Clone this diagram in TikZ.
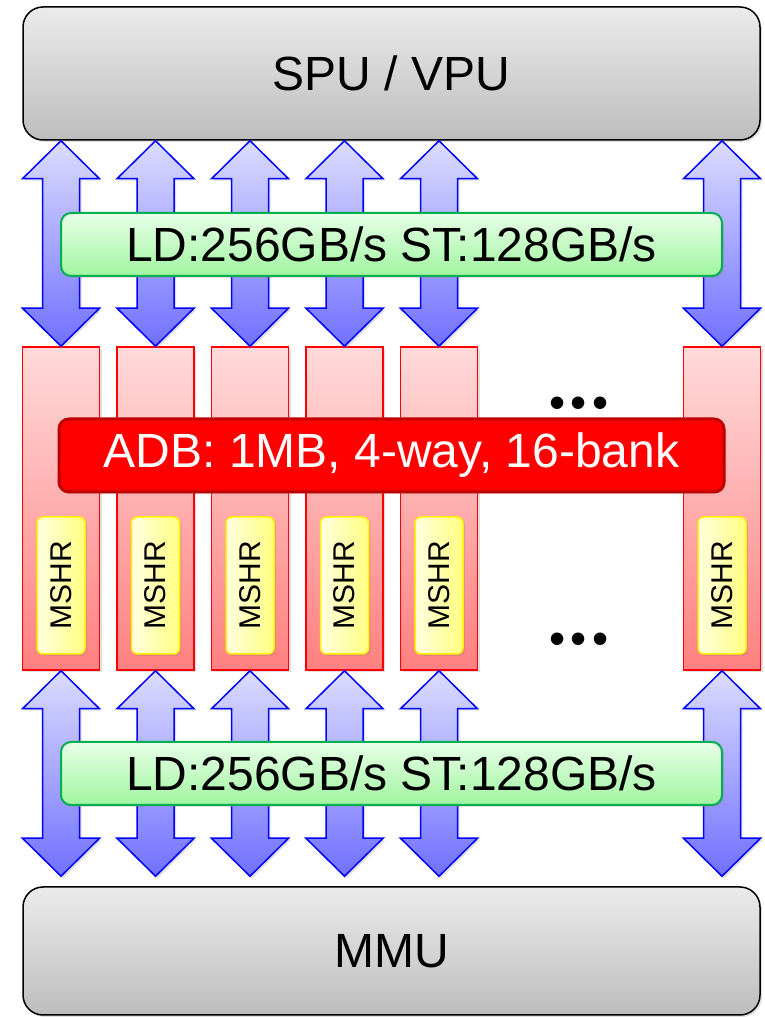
\documentclass[tikz,border=0pt]{standalone}
\usepackage{fontspec}
\setmainfont{Liberation Sans}
\usepackage{tikz}
\usetikzlibrary{calc,shadows}
\usepackage{xcolor}
\definecolor{unitgraytop}{HTML}{EBEBEB}
\definecolor{unitgraybot}{HTML}{BDBDBD}
\definecolor{busbluetop}{HTML}{DCDCFF}
\definecolor{busbluebot}{HTML}{7070FF}
\definecolor{bwgreentop}{HTML}{E8FFE8}
\definecolor{bwgreenbot}{HTML}{A0F5A0}
\definecolor{bwgreenline}{HTML}{00B050}
\definecolor{bankredtop}{HTML}{FFDADA}
\definecolor{bankredbot}{HTML}{FF8080}
\definecolor{adbdark}{HTML}{C00000}
\definecolor{mshrleft}{HTML}{FFFFE0}
\definecolor{mshrright}{HTML}{FFFF80}

\begin{document}
\begin{tikzpicture}[x=1pt, y=1pt,
    shad/.style={drop shadow={opacity=0.25, shadow xshift=2pt, shadow yshift=-2pt}},
    unit/.style={draw=black, line width=1.5pt, rounded corners=20pt, shad,
                 top color=unitgraytop, bottom color=unitgraybot,
                 minimum width=737pt, font=\fontsize{48}{56}\selectfont},
    bw/.style={draw=bwgreenline, line width=2pt, rounded corners=10pt, shad,
               top color=bwgreentop, bottom color=bwgreenbot,
               minimum width=661pt, minimum height=63pt,
               font=\fontsize{48}{56}\selectfont},
    bank/.style={draw=red, line width=1.5pt, shad,
                 top color=bankredtop, bottom color=bankredbot,
                 minimum width=77pt, minimum height=323pt, inner sep=0pt},
    mshr/.style={draw=yellow, line width=1.5pt, rounded corners=6pt, shad,
                 left color=mshrleft, right color=mshrright,
                 minimum width=48pt, minimum height=137pt, inner sep=0pt,
                 font=\fontsize{30}{36}\selectfont},
    fatarrow/.style={draw=blue, line width=1.5pt, shad,
                     top color=busbluetop, bottom color=busbluebot},
    gap/.style={font=\fontsize{46}{52}\selectfont, inner sep=0pt}
]
\useasboundingbox (0,0) rectangle (765,1017);

\node[unit, minimum height=133pt] (spu) at (391.5,943.5) {SPU / VPU};
\node[unit, minimum height=128pt] (mmu) at (391.5,66) {MMU};

% banks with their MSHRs
\foreach \i/\x in {1/61,2/155.5,3/250,4/344.5,5/439,6/722} {
  \node[bank] (b\i) at (\x,508.5) {};
  \node[mshr] (m\i) at (\x,431.5) {\rotatebox{90}{MSHR}};
}

\node[gap] (dotstop) at (579,609) {•\kern5pt•\kern5pt•};
\node[gap] (dotsbot) at (579,373) {•\kern5pt•\kern5pt•};

\node[draw=adbdark, line width=3pt, fill=red, rounded corners=10pt, shad,
      minimum width=665pt, minimum height=73pt, text=white,
      font=\fontsize{48}{56}\selectfont] (adb) at (391.5,561.5)
      {ADB: 1MB, 4-way, 16-bank};

% fat double arrows
\foreach \i in {1,...,6} {
  \path (b\i.north |- spu.south) coordinate (t\i);
  \draw[fatarrow] (t\i) -- ++(38.5,-38) -- ++(-20,0)
    -- ($(b\i.north)+(18.5,38)$) -- ++(20,0) -- (b\i.north)
    -- ++(-38.5,38) -- ++(20,0)
    -- ($(t\i)+(-18.5,-38)$) -- ++(-20,0) -- cycle;
  \path ($(b\i.south |- mmu.north)+(0,10)$) coordinate (u\i);
  \draw[fatarrow] (b\i.south) -- ++(38.5,-38) -- ++(-20,0)
    -- ($(u\i)+(18.5,38)$) -- ++(20,0) -- (u\i)
    -- ++(-38.5,38) -- ++(20,0)
    -- ($(b\i.south)+(-18.5,-38)$) -- ++(-20,0) -- cycle;
}

\node[bw] (bwtop) at (391.5,772.5) {LD:256GB/s ST:128GB/s};
\node[bw] (bwbot) at (391.5,243.5) {LD:256GB/s ST:128GB/s};
\end{tikzpicture}
\end{document}
